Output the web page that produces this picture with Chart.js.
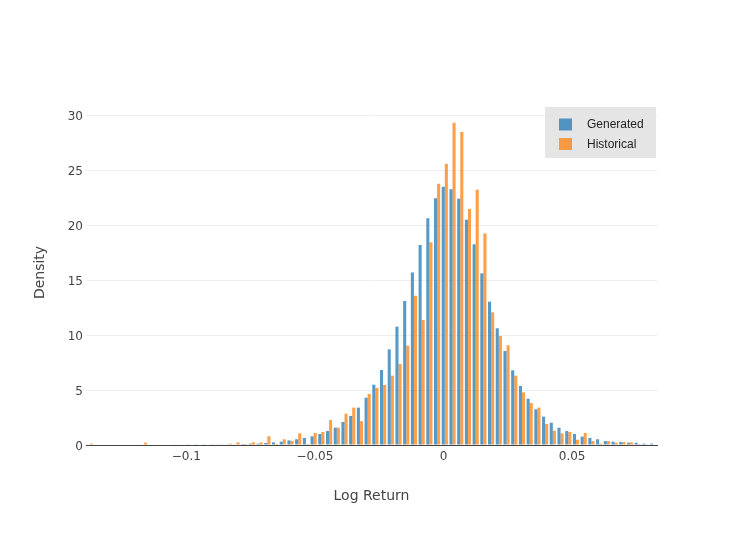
<!DOCTYPE html>
<html><head><meta charset="utf-8">
<script src="https://cdn.jsdelivr.net/npm/chart.js@4.4.0/dist/chart.umd.min.js"></script>
<style>html,body{margin:0;padding:0;background:#fff;}canvas{display:block;}</style>
</head><body>
<canvas id="c" width="747" height="536"></canvas>
<script>
// Bin centres (bin width 0.003, from -0.139 to 0.083)
const binCenters = [
  -0.1375,-0.1345,-0.1315,-0.1285,-0.1255,-0.1225,-0.1195,-0.1165,-0.1135,-0.1105,
  -0.1075,-0.1045,-0.1015,-0.0985,-0.0955,-0.0925,-0.0895,-0.0865,-0.0835,-0.0805,
  -0.0775,-0.0745,-0.0715,-0.0685,-0.0655,-0.0625,-0.0595,-0.0565,-0.0535,-0.0505,
  -0.0475,-0.0445,-0.0415,-0.0385,-0.0355,-0.0325,-0.0295,-0.0265,-0.0235,-0.0205,
  -0.0175,-0.0145,-0.0115,-0.0085,-0.0055,-0.0025,0.0005,0.0035,0.0065,0.0095,
  0.0125,0.0155,0.0185,0.0215,0.0245,0.0275,0.0305,0.0335,0.0365,0.0395,
  0.0425,0.0455,0.0485,0.0515,0.0545,0.0575,0.0605,0.0635,0.0665,0.0695,
  0.0725,0.0755,0.0785,0.0815
];
const generated = [
  0,0,0,0,0,0,0,0,0,0,
  0,0,0,0.03,0.03,0.03,0.03,0.06,0.06,0.06,
  0.09,0.12,0.12,0.18,0.24,0.30,0.42,0.52,0.64,0.79,
  1.00,1.27,1.58,2.09,2.64,3.40,4.30,5.49,6.82,8.70,
  10.77,13.10,15.70,18.20,20.63,22.45,23.50,23.27,22.41,20.50,
  18.26,15.62,13.04,10.62,8.55,6.80,5.37,4.21,3.25,2.58,
  2.03,1.57,1.27,1.00,0.76,0.64,0.52,0.36,0.30,0.27,
  0.21,0.21,0.12,0.12
];
const historical = [
  0.12,0,0,0,0,0,0,0.21,0,0,
  0,0.06,0,0,0,0,0.06,0.03,0.12,0.24,
  0.09,0.24,0.24,0.80,0.09,0.52,0.38,1.06,0.09,1.09,
  1.18,2.27,1.58,2.85,3.40,2.17,4.65,5.20,5.46,6.31,
  7.37,9.04,13.59,11.37,18.44,23.78,25.60,29.33,28.48,21.47,
  23.23,19.26,12.07,9.92,9.07,6.31,4.79,3.82,3.40,1.91,
  1.30,1.06,1.18,0.48,1.09,0.36,0.12,0.36,0.21,0.27,
  0.24,0.09,0.03,0
];
const seriesNames = ['Generated', 'Historical'];
const xTickValues = [-0.1, -0.05, 0, 0.05];
const xTickLabels = ['\u22120.1', '\u22120.05', '0', '0.05'];
const yTickValues = [0, 5, 10, 15, 20, 25, 30];
const xTitle = 'Log Return';
const yTitle = 'Density';

const BLUE = 'rgba(31,119,180,0.75)';
const ORANGE = 'rgba(255,127,14,0.75)';
const FONT = '"DejaVu Sans", Verdana, sans-serif';

Chart.defaults.font.family = FONT;
Chart.defaults.color = '#444';

const legendBox = {
  id: 'legendBox',
  afterDraw(chart) {
    const ctx = chart.ctx;
    const ca = chart.chartArea;
    const x0 = ca.right - 112, y0 = ca.top + 7;
    ctx.save();
    ctx.fillStyle = '#e5e5e5';
    ctx.fillRect(x0, y0, 111, 51);
    const cols = [BLUE, ORANGE];
    ctx.font = '12px "Liberation Sans", Arial, sans-serif';
    ctx.textBaseline = 'middle';
    ctx.textAlign = 'left';
    seriesNames.forEach((n, i) => {
      const cy = y0 + 17.5 + i * 19.5;
      ctx.fillStyle = cols[i];
      ctx.fillRect(x0 + 14, cy - 6, 13, 12);
      ctx.fillStyle = '#222';
      ctx.fillText(n, x0 + 42, cy + 0.5);
    });
    ctx.restore();
  }
};

new Chart(document.getElementById('c'), {
  type: 'bar',
  data: {
    datasets: [
      { label: seriesNames[0], data: binCenters.map((x, i) => ({x, y: generated[i]})), backgroundColor: BLUE, borderWidth: 0 },
      { label: seriesNames[1], data: binCenters.map((x, i) => ({x, y: historical[i]})), backgroundColor: ORANGE, borderWidth: 0 }
    ]
  },
  options: {
    responsive: false,
    animation: false,
    devicePixelRatio: 1,
    barPercentage: 1,
    categoryPercentage: 0.8,
    layout: { padding: { top: 100, right: 90, left: 0, bottom: 0 } },
    plugins: { legend: { display: false }, tooltip: { enabled: false } },
    scales: {
      x: {
        type: 'linear',
        min: -0.139, max: 0.083,
        offset: false,
        grid: { display: false, drawTicks: false },
        border: { display: true, color: '#444', width: 1 },
        afterBuildTicks: s => { s.ticks = xTickValues.map(v => ({value: v})); },
        afterFit: s => { s.height = 91; },
        ticks: {
          padding: 4.5, color: '#444', font: { size: 12 }, maxRotation: 0,
          callback: v => xTickLabels[xTickValues.indexOf(v)]
        },
        title: { display: true, text: xTitle, color: '#444', font: { size: 14 }, padding: { top: 0, bottom: 31.6 } }
      },
      y: {
        type: 'linear',
        min: 0, max: 31.39,
        grid: { color: '#eeeeee', lineWidth: 1, drawTicks: false },
        border: { display: false },
        afterBuildTicks: s => { s.ticks = yTickValues.map(v => ({value: v})); },
        afterFit: s => { s.width = 86; },
        ticks: { padding: 3, labelOffset: 2, color: '#444', font: { size: 12 }, callback: v => String(v) },
        title: { display: true, text: yTitle, color: '#444', font: { size: 14 }, padding: { top: 32.1, bottom: 0 } }
      }
    }
  },
  plugins: [legendBox]
});
</script>
</body></html>
